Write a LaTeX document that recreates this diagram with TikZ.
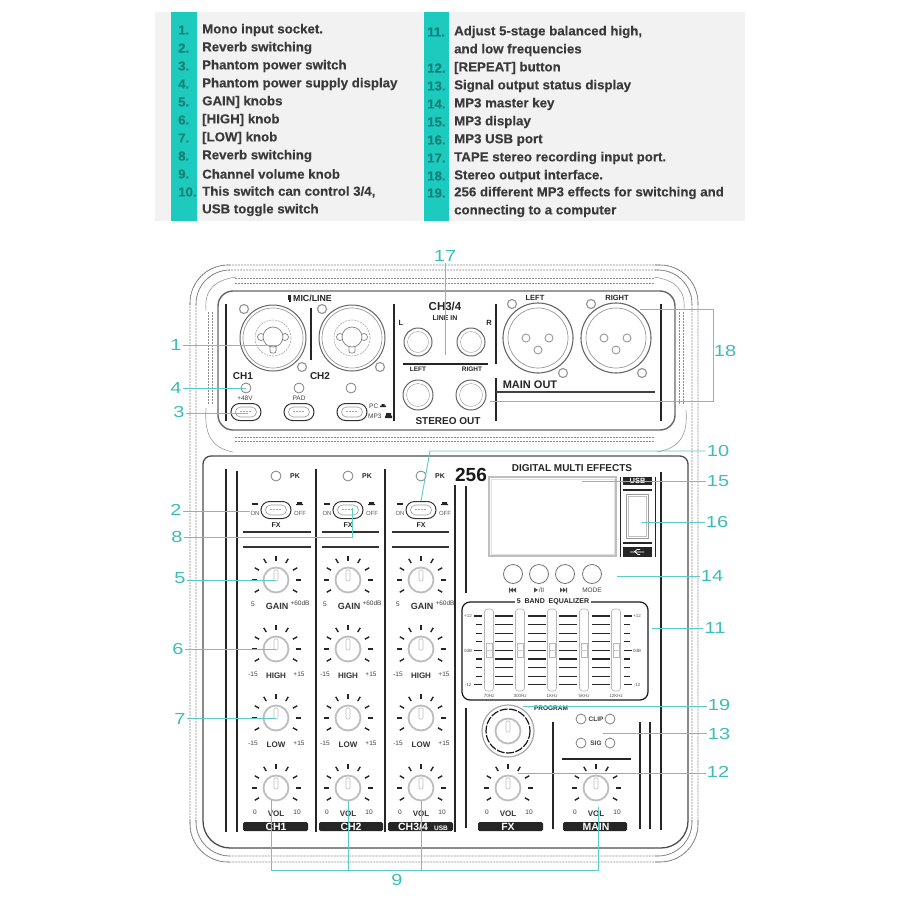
\documentclass[tikz,border=0pt]{standalone}
\usepackage{fontspec}
\setmainfont{Liberation Sans}
\newfontfamily\labf[FakeStretch=1.25]{Liberation Sans}
\newfontfamily\listf[FakeStretch=1.02,FakeBold=0.3]{Liberation Sans Bold}
\usetikzlibrary{shapes.misc}
\definecolor{leadc}{HTML}{5CCAC6}
\definecolor{labc}{HTML}{3CBDB9}
\definecolor{barc}{HTML}{1CCABE}
\definecolor{numc}{HTML}{17807A}
\definecolor{listc}{HTML}{3A3A3A}
\definecolor{hdr}{HTML}{F2F2F2}
\definecolor{kn}{HTML}{BDBDBD}
\tikzset{
 lead/.style={draw=leadc,line width=.9pt},
 lab/.style={text=labc,inner sep=1pt,font=\labf\fontsize{16}{16}\selectfont},
 item/.style={anchor=west,inner sep=0pt,text=listc,font=\listf\fontsize{13}{13}\selectfont},
 num/.style={anchor=west,inner sep=0pt,text=numc,font=\listf\fontsize{13}{13}\selectfont},
 shell/.style={draw=black!50,line width=.6pt,rounded corners=38pt},
 dsh/.style={draw=black!45,line width=.6pt,dash pattern=on 2pt off 1pt},
 rule/.style={draw=black!85,line width=1.3pt},
 knobc/.style={circle,draw=kn,line width=1.8pt,minimum size=25pt,inner sep=0pt,fill=white},
 ledc/.style={circle,draw=black!50,line width=.8pt,minimum size=10pt,inner sep=0pt,fill=white},
 sw/.style={rounded rectangle,draw=black!80,line width=1pt,minimum width=30pt,minimum height=17pt,inner sep=0pt,fill=white},
 swi/.style={rounded rectangle,draw=black!40,line width=.6pt,minimum width=21pt,minimum height=10pt,inner sep=0pt},
 screw/.style={circle,draw=black!40,line width=1.2pt,minimum size=9pt,inner sep=0pt},
 jackc/.style={circle,draw=black!60,line width=1pt,minimum size=28pt,inner sep=0pt,fill=white},
 bt/.style={inner sep=0pt,text=black!85,font=\bfseries\fontsize{8.5}{9}\selectfont},
 st/.style={inner sep=0pt,text=black!75,font=\fontsize{6.5}{7}\selectfont},
 bst/.style={inner sep=0pt,text=black!85,font=\bfseries\fontsize{6.5}{7}\selectfont},
 kt/.style={inner sep=0pt,text=black!80,font=\bfseries\fontsize{8}{9}\selectfont},
 tn/.style={inner sep=0pt,text=black!65,font=\fontsize{4.5}{5}\selectfont},
 onoff/.style={inner sep=0pt,text=black!65,font=\fontsize{6}{7}\selectfont},
 plate/.style={fill=black!85,rounded corners=1.5pt},
 ptxt/.style={inner sep=0pt,text=white,font=\bfseries\fontsize{10.5}{11}\selectfont},
}
\newcommand{\KN}[3]{%
 \foreach \a in {-210,-180,...,30}{\draw[black!85,line width=1.4pt] (#2,#3) ++(\a:19.5) -- ++(\a:5);}
 \node[knobc] (#1) at (#2,#3) {};
 \draw[black!25,line width=.6pt,rounded corners=1pt] ({#2-2},{#3-10}) rectangle ({#2+2},{#3+1});
}
\newcommand{\SWT}[3]{%
 \node[sw] (#1) at (#2,#3) {};
 \node[swi] at (#2,#3) {};
 \draw[black!35,line width=.5pt,dash pattern=on 2pt off 1pt] ({#2-6},{#3-1}) -- ({#2+6},{#3-1});
}
\newcommand{\ONOFF}[2]{%
 \fill[black!85] ({#1-24},{#2-7}) rectangle ({#1-18},{#2-5.5});
 \fill[black!85] ({#1+21},{#2-8}) rectangle ({#1+26},{#2-5.5}) ({#1+20},{#2-6}) rectangle ({#1+27},{#2-5});
 \node[onoff] at ({#1-21},{#2+3}) {ON};
 \node[onoff] at ({#1+24},{#2+3}) {OFF};
 \node[bst] at (#1,{#2+15}) {\fontsize{7}{8}\selectfont FX};
}
\newcommand{\COMBO}[2]{%
 \draw[black!60,line width=1pt] (#1,#2) circle[radius=33];
 \draw[black!40,line width=.7pt] (#1,#2) circle[radius=30];
 \draw[black!35,line width=.6pt,dash pattern=on 2pt off 1pt] (#1,#2) circle[radius=18];
 \draw[black!50,line width=.7pt] ({#1-12},{#2-1}) circle[radius=3.5] ({#1+12},{#2-1}) circle[radius=3.5];
 \draw[black!50,line width=.7pt,rounded corners=2pt] ({#1-3},{#2+5}) rectangle ({#1+3},{#2+15});
 \draw[black!50,line width=.7pt,fill=white] (#1,{#2-1}) circle[radius=10];
}
\newcommand{\XLR}[2]{%
 \draw[black!60,line width=1.1pt] (#1,#2) circle[radius=35];
 \draw[black!40,line width=.7pt] (#1,#2) circle[radius=30];
 \foreach \dx/\dy in {-12/0,11/0,0/12}{\draw[black!40,line width=.9pt] ({#1+\dx},{#2+\dy}) circle[radius=4];}
}
\begin{document}
\begin{tikzpicture}[x=1pt,y=-1pt]
\useasboundingbox (0,0) rectangle (900,900);
\fill[white] (0,0) rectangle (900,900);
% ---------- header
\fill[hdr] (155,12) rectangle (745,221);
\fill[barc] (171,12) rectangle (197,221);
\fill[barc] (424,12) rectangle (449,221);
\foreach \y/\n/\t in {30/1./Mono input socket.,48/2./Reverb switching,66/3./Phantom power switch,84/4./Phantom power supply display,102/5./{GAIN] knobs},120/6./{[HIGH] knob},138/7./{[LOW] knob},156/8./Reverb switching,174/9./Channel volume knob,192/10./{This switch can control 3/4,}}{
 \node[num] at (178,\y) {\n};
 \node[item] at (202,\y) {\t};
}
\node[item] at (202,210) {USB toggle switch};
\foreach \y/\n/\t in {32/11./{Adjust 5-stage balanced high,},68/12./{[REPEAT] button},86/13./Signal output status display,104/14./MP3 master key,122/15./MP3 display,140/16./MP3 USB port,158/17./TAPE stereo recording input port.,176/18./Stereo output interface.,193/19./256 different MP3 effects for switching and}{
 \node[num] at (427,\y) {\n};
 \node[item] at (454,\y) {\t};
}
\node[item] at (454,50) {and low frequencies};
\node[item] at (454,211) {connecting to a computer};
% ---------- shell
\draw[dsh,rounded corners=38pt] (190,265) rectangle (698,862);
\draw[dsh,rounded corners=34pt] (196,270) rectangle (692,856);
\begin{scope}
 \clip (185,260) rectangle (230,305) (655,260) rectangle (705,305) (185,820) rectangle (230,870) (655,820) rectangle (705,870);
 \draw[shell] (190,265) rectangle (698,862);
 \draw[shell,rounded corners=34pt] (196,270) rectangle (692,856);
\end{scope}
\draw[dsh] (235,278) -- (655,278) (235,283) -- (655,283) (235,437) -- (655,437) (235,441) -- (655,441);
\draw[dsh] (208,312) -- (208,405) (212,312) -- (212,405) (683,312) -- (683,405) (679,312) -- (679,405);
\draw[black!40,line width=.6pt] (206,310) .. controls (204,290) and (215,280) .. (236,277);
\draw[black!40,line width=.6pt] (206,408) .. controls (204,435) and (212,448) .. (233,452);
\draw[black!40,line width=.6pt] (684,310) .. controls (686,290) and (675,280) .. (654,277);
\draw[black!40,line width=.6pt] (686,410) .. controls (688,435) and (680,448) .. (657,452);
% ---------- upper panel
\draw[black!60,line width=1.4pt,rounded corners=15pt,fill=white] (218,291) rectangle (675,430);
\foreach \x/\a/\b in {226/304/421,311/308/360,394/304/421,496/304/364,496/378/421,661/304/421}{\draw[rule] (\x,\a) -- (\x,\b);}
\draw[rule] (403,364) -- (488,364);
\draw[rule,draw=black!75] (496,392) -- (655,392);
\COMBO{273}{338}\COMBO{352}{338}
\coordinate (e1) at (279,345);
\foreach \x/\y in {244/309,302/367,322/309,380/367,512/304,591/304,563/373,642/373}{\node[screw] at (\x,\y) {};}
\fill[black!85] (288,294.5) rectangle (291,300);
\fill[black!85] (288.5,300) rectangle (290.5,302);
\node[bst,anchor=west] at (293,298) {\fontsize{8.8}{9}\selectfont MIC/LINE};
\node[bt,font=\bfseries\fontsize{10}{11}\selectfont] at (243,376) {CH1};
\node[bt,font=\bfseries\fontsize{10}{11}\selectfont] at (320,376) {CH2};
\node[ledc] (led4) at (246,388) {};
\node[ledc] at (299,388) {};
\node[ledc] at (351,388) {};
\node[st] at (245,398) {+48V};
\node[st] at (299,398) {PAD};
\SWT{sw3}{246}{412}\SWT{swb}{299}{412}\SWT{swc}{352}{412}
\node[st,anchor=west] at (369,406) {PC};
\node[st,anchor=west] at (368,416) {MP3};
\fill[black!85] (380,405.5) rectangle (386,407) (381.5,404) rectangle (384.5,406);
\fill[black!85] (385,415.5) rectangle (392,418) (386,413) rectangle (391,416);
\node[bt,font=\bfseries\fontsize{11.5}{12}\selectfont] at (445,306) {CH3/4};
\node[bst,font=\bfseries\fontsize{7}{8}\selectfont] at (445,318) {LINE IN};
\node[bst,font=\bfseries\fontsize{7.5}{8}\selectfont] at (401,323) {L};
\node[bst,font=\bfseries\fontsize{7.5}{8}\selectfont] at (489,323) {R};
\node[jackc] at (418,342) {};\node[circle,draw=black!40,minimum size=21pt,inner sep=0pt] at (418,342) {};
\node[jackc] at (471,342) {};\node[circle,draw=black!40,minimum size=21pt,inner sep=0pt] at (471,342) {};
\node[jackc,minimum size=30pt] at (418,395) {};\node[circle,draw=black!40,minimum size=23pt,inner sep=0pt] at (418,395) {};
\node[jackc,minimum size=30pt] at (471,395) {};\node[circle,draw=black!40,minimum size=23pt,inner sep=0pt] at (471,395) {};
\node[bst] at (418,369) {LEFT};
\node[bst] at (472,369) {RIGHT};
\node[bt,font=\bfseries\fontsize{10}{11}\selectfont] at (448,421) {STEREO OUT};
\XLR{538}{338}\XLR{616}{338}
\node[bst,font=\bfseries\fontsize{7.5}{8}\selectfont] at (535,298) {LEFT};
\node[bst,font=\bfseries\fontsize{7.5}{8}\selectfont] at (617,298) {RIGHT};
\node[bt,font=\bfseries\fontsize{11}{12}\selectfont] at (530,385) {MAIN OUT};
% ---------- lower panel
\draw[black!70,line width=1.3pt,fill=white] (203,650) [rounded corners=8pt] -- (203,456) -- (688,456) [rounded corners=27pt] -- (688,848) -- (203,848) -- cycle;
\foreach \x/\a/\b in {226/469/832,237/471/832,316/469/832,385/469/832,455/485/832,466/486/593,466/708/828,553/722/829,640/722/829,650/722/829,661/472/830}{\draw[rule] (\x,\a) -- (\x,\b);}
\foreach \c/\sx/\ax/\bx in {a/276/243/311,b/348/322/379,c/421/392/449}{
 \node[ledc] (pk\c) at (\sx,476) {};
 \node[bst] at ({\sx+19},476) {\fontsize{7}{8}\selectfont PK};
 \SWT{sw\c x}{\sx}{510}
 \ONOFF{\sx}{510}
 \draw[black!80,line width=1.1pt] (\ax,532) -- (\bx,532) (\ax,547) -- (\bx,547);
 \KN{gain\c}{\sx}{580}\KN{high\c}{\sx}{649}\KN{low\c}{\sx}{718}\KN{vol\c}{\sx}{788}
 \node[st] at ({\sx-23},604) {5};
 \node[st] at ({\sx+24},603) {+60dB};
 \node[kt,font=\bfseries\fontsize{9}{10}\selectfont] at ({\sx+1},606) {GAIN};
 \node[st] at ({\sx-23},674) {-15};
 \node[st] at ({\sx+23},674) {+15};
 \node[kt] at (\sx,676) {HIGH};
 \node[st] at ({\sx-23},743) {-15};
 \node[st] at ({\sx+23},743) {+15};
 \node[kt] at (\sx,745) {LOW};
 \node[st] at ({\sx-21},812) {0};
 \node[st] at ({\sx+21},812) {10};
 \node[kt] at (\sx,814) {VOL};
}
% bottom plates
\fill[plate] (243,822) rectangle (308,831);
\fill[plate] (319,822) rectangle (383,831);
\fill[plate] (388,822) rectangle (453,831);
\fill[plate] (478,822) rectangle (543,831);
\fill[plate] (563,822) rectangle (627,831);
\node[ptxt] at (276,827) {CH1};
\node[ptxt] at (351,827) {CH2};
\node[ptxt] at (413,827) {CH3/4};
\node[ptxt,font=\bfseries\fontsize{6.5}{7}\selectfont] at (441,828) {USB};
\node[ptxt] at (508,827) {FX};
\node[ptxt] at (596,827) {MAIN};
% effects section
\node[inner sep=0pt,font=\bfseries\fontsize{19}{20}\selectfont,text=black!90] at (471,475) {256};
\node[inner sep=0pt,font=\bfseries\fontsize{10}{11}\selectfont,text=black!85] at (572,468) {DIGITAL MULTI EFFECTS};
\draw[black!25,line width=1.2pt] (489,477) rectangle (616,556);
\draw[black!12,line width=.6pt] (491,479) rectangle (614,554);
\draw[black!85,line width=.9pt] (620,477) -- (620,557) (655,477) -- (655,557);
\fill[black!85] (623,477) rectangle (652,485);
\node[ptxt,font=\bfseries\fontsize{7.5}{8}\selectfont] at (637.5,481) {USB};
\draw[black!85,line width=1.1pt] (623,490) -- (652,490) (623,543) -- (652,543);
\draw[black!40,line width=1pt] (626,494) rectangle (648,538);
\draw[black!25,line width=.6pt] (628,496) rectangle (646,536);
\fill[black!85] (623,547) rectangle (652,557);
\draw[white,line width=.7pt] (630,552) -- (644,552) (634,552) -- (637,549.5) -- (640,549.5) (635,552) -- (638,554.5) -- (640,554.5);
\foreach \x in {513,539,565,592}{\node[circle,draw=black!55,line width=.8pt,minimum size=19pt,inner sep=0pt] at (\x,574) {};}
\fill[black!70] (509,587.5) rectangle (510,592.5) (510,590) -- (513,587.5) -- (513,592.5) -- cycle (513,590) -- (516,587.5) -- (516,592.5) -- cycle;
\fill[black!70] (534,587.5) -- (538,590) -- (534,592.5) -- cycle;
\node[st] at (541.5,590) {/II};
\fill[black!70] (560,587.5) -- (563,590) -- (560,592.5) -- cycle (563,587.5) -- (566,590) -- (563,592.5) -- cycle (566,587.5) rectangle (567,592.5);
\node[st] at (592,590) {MODE};
% equalizer
\draw[black!90,line width=1.2pt,rounded corners=8pt] (462,602) rectangle (648,700);
\node[fill=white,inner sep=1.5pt,font=\bfseries\fontsize{7}{8}\selectfont,text=black!85] at (553,602) {5\ \ BAND\ \ EQUALIZER};
\foreach \i in {0,...,8}{
 \pgfmathsetmacro{\yy}{616+8.6*\i}
 \draw[black!85,line width=1.2pt] (495,\yy) -- (513,\yy) (528,\yy) -- (546,\yy) (559,\yy) -- (577,\yy) (592,\yy) -- (610,\yy) (476,\yy) -- (482,\yy) (624,\yy) -- (630,\yy);
}
\foreach \yy in {616,650.4,684.8}{\draw[black!85,line width=1.2pt] (474,\yy) -- (482,\yy) (624,\yy) -- (632,\yy);}
\foreach \x/\t in {489/70Hz,520/300Hz,552/1KHz,584/5KHz,616/12KHz}{
 \draw[black!28,line width=.7pt,rounded corners=3pt] ({\x-4.5},609) rectangle ({\x+4.5},691);
 \draw[black!28,line width=.6pt,fill=white] ({\x-3},643) rectangle ({\x+3},657);
 \draw[black!22,line width=.4pt] ({\x-3},650) -- ({\x+3},650);
 \node[tn] at (\x,695.5) {\t};
}
\foreach \yy/\t in {616/+12,650.4/0dB,684.8/-12}{
 \node[tn] at (468,\yy) {\t};
 \node[tn] at (637,\yy) {\t};
}
% program + leds
\draw[black!35,line width=1.2pt] (508,731) circle[radius=26];
\draw[black!90,line width=1.2pt,dash pattern=on 8pt off 1.5pt] (508,731) circle[radius=22];
\node[knobc] (prog) at (508,731) {};
\draw[black!25,line width=.6pt,rounded corners=1pt] (506,721) rectangle (510,732);
\node[bst,font=\bfseries\fontsize{6.5}{7}\selectfont] at (551,708.5) {PROGRAM};
\node[ledc] (clipa) at (581,719) {};
\node[ledc] (clipb) at (610,719) {};
\node[ledc] (siga) at (581,743) {};
\node[ledc] (sigb) at (610,743) {};
\node[st,font=\bfseries\fontsize{6.5}{7}\selectfont] at (596,719) {CLIP};
\node[st,font=\bfseries\fontsize{6.5}{7}\selectfont] at (596,743) {SIG};
\draw[black!85,line width=1.1pt] (562,759) -- (631,759);
\KN{volfx}{508}{788}\KN{volmain}{596}{788}
\foreach \sx/\t in {508/x,596/y}{
 \node[st] at ({\sx-21},812) {0};
 \node[st] at ({\sx+21},812) {10};
 \node[kt] at (\sx,814) {VOL};
}
% ---------- labels and leaders
\node[lab] (n1) at (176,345) {1};
\node[lab] (n4) at (176,388) {4};
\node[lab] (n3) at (179,412) {3};
\node[lab] (n17) at (445,256) {17};
\node[lab] (n18) at (725,351) {18};
\node[lab] (n10) at (718,451) {10};
\node[lab] (n2) at (176,510) {2};
\node[lab] (n8) at (177,537) {8};
\node[lab] (n5) at (180,578) {5};
\node[lab] (n6) at (178,649) {6};
\node[lab] (n7) at (180,719) {7};
\node[lab] (n9) at (397,880) {9};
\node[lab] (n15) at (718,481) {15};
\node[lab] (n16) at (717,522) {16};
\node[lab] (n14) at (712,576) {14};
\node[lab] (n11) at (715,628) {11};
\node[lab] (n19) at (719,705) {19};
\node[lab] (n13) at (719,734) {13};
\node[lab] (n12) at (718,772) {12};
\coordinate (e17) at (445,355);
\coordinate (e18a) at (640,309);
\coordinate (e18b) at (490,401);
\coordinate (c18a) at (713,309);
\coordinate (c18b) at (713,401);
\coordinate (c10) at (430,451);
\coordinate (e8) at (352,508);
\coordinate (c8) at (352,537);
\coordinate (e2) at (250,511);
\coordinate (e3) at (248,413);
\coordinate (e15) at (582,481);
\coordinate (e16) at (642,522);
\coordinate (e14) at (617,576);
\coordinate (e11) at (652,628);
\coordinate (e19) at (523,706);
\coordinate (e13) at (603,733);
\coordinate (e12) at (518,773);
\coordinate (c9) at (271,870);
\coordinate (d9) at (598,870);
\coordinate (f9) at (271,800);
\coordinate (g9) at (598,807);
\draw[lead] (n1.east |- e1) -- (e1);
\draw[lead] (n4.east |- led4) -- (led4.center);
\draw[lead] (n3.east |- e3) -- (e3);
\draw[lead] (n17.south) -- (e17);
\draw[lead] (e18a) -- (c18a) -- (c18b) -- (e18b);
\draw[lead] (n10.west) -- (c10) -- (swcx.north);
\draw[lead] (n2.east |- e2) -- (e2);
\draw[lead] (n8.east |- c8) -- (c8) -- (e8);
\draw[lead] (n5.east |- gaina) -- (gaina.center);
\draw[lead] (n6.east |- higha) -- (higha.center);
\draw[lead] (n7.east |- lowa) -- (lowa.center);
\draw[lead] (f9) -- (c9) -- (d9) -- (g9);
\draw[lead] (volb.south) -- (volb.south |- c9);
\draw[lead] (volc.south) -- (volc.south |- c9);
\draw[lead] (n15.west |- e15) -- (e15);
\draw[lead] (n16.west |- e16) -- (e16);
\draw[lead] (n14.west |- e14) -- (e14);
\draw[lead] (n11.west |- e11) -- (e11);
\draw[lead] (n19.west |- e19) -- (e19);
\draw[lead] (n13.west |- e13) -- (e13);
\draw[lead] (n12.west |- e12) -- (e12);
\end{tikzpicture}
\end{document}
